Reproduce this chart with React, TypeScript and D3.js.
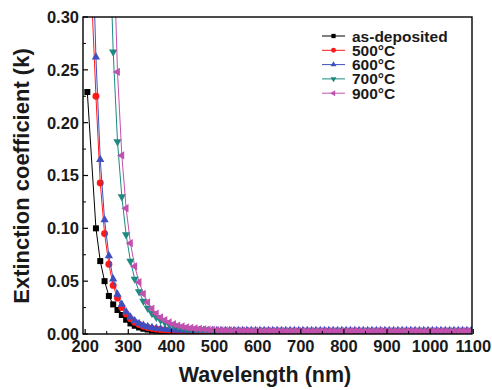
import React from 'react';
import * as d3 from 'd3';

const wavelengths = [
  205, 215, 225, 235, 245, 255, 265, 275, 285, 295,
  305, 315, 325, 335, 345, 355, 365, 375, 385, 395,
  405, 415, 425, 435, 445, 455, 465, 475, 485, 495,
  505, 515, 525, 535, 545, 555, 565, 575, 585, 595,
  605, 615, 625, 635, 645, 655, 665, 675, 685, 695,
  705, 715, 725, 735, 745, 755, 765, 775, 785, 795,
  805, 815, 825, 835, 845, 855, 865, 875, 885, 895,
  905, 915, 925, 935, 945, 955, 965, 975, 985, 995,
  1005, 1015, 1025, 1035, 1045, 1055, 1065, 1075, 1085, 1095,
];

const asDeposited = [
  0.229, null, 0.100, 0.069, 0.050, 0.036, 0.028, 0.0227, 0.018, 0.0135,
  0.010, 0.0078, 0.0062, 0.0050, 0.0042, 0.0036, 0.0031, 0.0028, 0.0025, 0.0023,
  0.0022, 0.0021, 0.0021, 0.0020, 0.0020, 0.0020, 0.0019, 0.0019, 0.0019, 0.0019,
  0.0018, 0.0018, 0.0018, 0.0018, 0.0018, 0.0018, 0.0018, 0.0018, 0.0018, 0.0018,
  0.0018, 0.0018, 0.0018, 0.0018, 0.0018, 0.0018, 0.0018, 0.0018, 0.0018, 0.0018,
  0.0018, 0.0018, 0.0018, 0.0018, 0.0018, 0.0018, 0.0018, 0.0018, 0.0018, 0.0018,
  0.0018, 0.0018, 0.0018, 0.0018, 0.0018, 0.0018, 0.0018, 0.0018, 0.0018, 0.0018,
  0.0018, 0.0018, 0.0018, 0.0018, 0.0018, 0.0018, 0.0018, 0.0018, 0.0018, 0.0018,
  0.0018, 0.0018, 0.0018, 0.0018, 0.0018, 0.0018, 0.0018, 0.0018, 0.0018, 0.0018,
];

const t500 = [
  null, 0.32, 0.225, 0.143, 0.095, 0.066, 0.046, 0.034, 0.025, 0.019,
  0.0145, 0.0112, 0.0090, 0.0074, 0.0062, 0.0053, 0.0046, 0.0041, 0.0037, 0.0034,
  0.0032, 0.0030, 0.0029, 0.0028, 0.0028, 0.0027, 0.0027, 0.0026, 0.0026, 0.0026,
  0.0026, 0.0026, 0.0025, 0.0025, 0.0025, 0.0025, 0.0025, 0.0025, 0.0025, 0.0025,
  0.0025, 0.0025, 0.0025, 0.0025, 0.0025, 0.0025, 0.0025, 0.0025, 0.0025, 0.0025,
  0.0025, 0.0025, 0.0025, 0.0025, 0.0025, 0.0025, 0.0025, 0.0025, 0.0025, 0.0025,
  0.0025, 0.0025, 0.0025, 0.0025, 0.0025, 0.0025, 0.0025, 0.0025, 0.0025, 0.0025,
  0.0025, 0.0025, 0.0025, 0.0025, 0.0025, 0.0025, 0.0025, 0.0025, 0.0025, 0.0025,
  0.0025, 0.0025, 0.0025, 0.0025, 0.0025, 0.0025, 0.0025, 0.0025, 0.0025, 0.0025,
];

const t600 = [
  null, 0.40, 0.262, 0.165, 0.108, 0.074, 0.052, 0.0375, 0.028, 0.021,
  0.016, 0.0125, 0.010, 0.0083, 0.0070, 0.0060, 0.0053, 0.0048, 0.0044, 0.0041,
  0.0039, 0.0037, 0.0036, 0.0035, 0.0035, 0.0034, 0.0034, 0.0034, 0.0033, 0.0033,
  0.0033, 0.0033, 0.0033, 0.0033, 0.0033, 0.0033, 0.0033, 0.0033, 0.0033, 0.0033,
  0.0033, 0.0033, 0.0033, 0.0033, 0.0033, 0.0033, 0.0033, 0.0033, 0.0033, 0.0033,
  0.0033, 0.0033, 0.0033, 0.0033, 0.0033, 0.0033, 0.0033, 0.0033, 0.0033, 0.0033,
  0.0033, 0.0033, 0.0033, 0.0033, 0.0033, 0.0033, 0.0033, 0.0033, 0.0033, 0.0033,
  0.0033, 0.0033, 0.0033, 0.0033, 0.0033, 0.0033, 0.0033, 0.0033, 0.0033, 0.0033,
  0.0033, 0.0033, 0.0033, 0.0033, 0.0033, 0.0033, 0.0033, 0.0033, 0.0033, 0.0033,
];

const t700 = [
  null, null, null, null, null, 0.40, 0.267, 0.182, 0.130, 0.094,
  0.069, 0.052, 0.040, 0.031, 0.0245, 0.0195, 0.0158, 0.013, 0.0108, 0.0091,
  0.0078, 0.0068, 0.0060, 0.0054, 0.0049, 0.0045, 0.0042, 0.0039, 0.0037, 0.0035,
  0.0034, 0.0033, 0.0032, 0.0031, 0.0031, 0.0030, 0.0030, 0.0030, 0.0029, 0.0029,
  0.0029, 0.0029, 0.0029, 0.0029, 0.0029, 0.0029, 0.0028, 0.0028, 0.0028, 0.0028,
  0.0028, 0.0028, 0.0028, 0.0028, 0.0028, 0.0028, 0.0028, 0.0028, 0.0028, 0.0028,
  0.0028, 0.0028, 0.0028, 0.0028, 0.0028, 0.0028, 0.0028, 0.0028, 0.0028, 0.0028,
  0.0028, 0.0028, 0.0028, 0.0028, 0.0028, 0.0028, 0.0028, 0.0028, 0.0028, 0.0028,
  0.0028, 0.0028, 0.0028, 0.0028, 0.0028, 0.0028, 0.0028, 0.0028, 0.0028, 0.0028,
];

const t900 = [
  null, null, null, null, null, null, 0.38, 0.248, 0.169, 0.119,
  0.086, 0.064, 0.049, 0.038, 0.030, 0.024, 0.0193, 0.0157, 0.013, 0.0109,
  0.0093, 0.0080, 0.0071, 0.0063, 0.0057, 0.0052, 0.0048, 0.0044, 0.0041, 0.0039,
  0.0037, 0.0035, 0.0034, 0.0033, 0.0032, 0.0031, 0.0031, 0.0030, 0.0030, 0.0030,
  0.0029, 0.0029, 0.0029, 0.0029, 0.0029, 0.0029, 0.0028, 0.0028, 0.0028, 0.0028,
  0.0028, 0.0028, 0.0028, 0.0028, 0.0028, 0.0028, 0.0028, 0.0028, 0.0028, 0.0028,
  0.0028, 0.0028, 0.0028, 0.0028, 0.0028, 0.0028, 0.0028, 0.0028, 0.0028, 0.0028,
  0.0028, 0.0028, 0.0028, 0.0028, 0.0028, 0.0028, 0.0028, 0.0028, 0.0028, 0.0028,
  0.0028, 0.0028, 0.0028, 0.0028, 0.0028, 0.0028, 0.0028, 0.0028, 0.0028, 0.0028,
];

const seriesNames = ['as-deposited', '500°C', '600°C', '700°C', '900°C'];
const seriesValues = [asDeposited, t500, t600, t700, t900];
const seriesColors = ['#000000', '#ff1a1a', '#3f4fc0', '#1c8a80', '#c250ae'];
const seriesShapes = ['square', 'circle', 'up', 'down', 'left'];

const xTicks = [200, 300, 400, 500, 600, 700, 800, 900, 1000, 1100];
const xMinorTicks = [250, 350, 450, 550, 650, 750, 850, 950, 1050];
const yTicks = [0, 0.05, 0.1, 0.15, 0.2, 0.25, 0.3];
const yMinorTicks = [0.025, 0.075, 0.125, 0.175, 0.225, 0.275];

const W = 492;
const H = 390;
const L = 83, R = 472, T = 17, B = 334;
const FONT = '"Liberation Sans", Arial, Helvetica, sans-serif';

function symbolPath(shape: string, size: number): { d: string; rot: number } {
  if (shape === 'square') return { d: d3.symbol(d3.symbolSquare, size)() as string, rot: 0 };
  if (shape === 'circle') return { d: d3.symbol(d3.symbolCircle, size)() as string, rot: 0 };
  const tri = d3.symbol(d3.symbolTriangle, size)() as string;
  if (shape === 'up') return { d: tri, rot: 0 };
  if (shape === 'down') return { d: tri, rot: 180 };
  return { d: tri, rot: -90 };
}

const markerSize: Record<string, number> = { square: 36, circle: 38, up: 30, down: 30, left: 30 };

export default function App() {
  const x = d3.scaleLinear().domain([195, 1097]).range([L, R]);
  const y = d3.scaleLinear().domain([0, 0.3]).range([B, T]);
  const line = d3.line<[number, number]>().x(d => x(d[0])).y(d => y(d[1]));

  return (
    <svg width={W} height={H} style={{ position: 'absolute', left: 0, top: 0, background: '#fff' }}
      fontFamily={FONT}>
      <defs>
        <clipPath id="plotClip">
          <rect x={L} y={T} width={R - L} height={B - T} />
        </clipPath>
      </defs>
      <rect x={0} y={0} width={W} height={H} fill="#fff" />
      <g clipPath="url(#plotClip)">
        {seriesValues.map((vals, si) => {
          const pts = wavelengths
            .map((w, i) => [w, vals[i]] as [number, number | null])
            .filter(p => p[1] !== null) as [number, number][];
          const sym = symbolPath(seriesShapes[si], markerSize[seriesShapes[si]]);
          return (
            <g key={si}>
              <path d={line(pts) as string} fill="none" stroke={seriesColors[si]} strokeWidth={1} />
              {pts.map((p, i) => (
                <path key={i} d={sym.d} fill={seriesColors[si]}
                  transform={`translate(${x(p[0])},${y(p[1])}) rotate(${sym.rot})`} />
              ))}
            </g>
          );
        })}
      </g>
      {yTicks.map(t => (
        <line key={'yt' + t} x1={L} x2={L + 5} y1={y(t)} y2={y(t)} stroke="#000" strokeWidth={1.2} />
      ))}
      {yMinorTicks.map(t => (
        <line key={'ym' + t} x1={L} x2={L + 3} y1={y(t)} y2={y(t)} stroke="#000" strokeWidth={1} />
      ))}
      {xTicks.map(t => (
        <line key={'xt' + t} x1={x(t)} x2={x(t)} y1={B} y2={B - 5} stroke="#000" strokeWidth={1.2} />
      ))}
      {xMinorTicks.map(t => (
        <line key={'xm' + t} x1={x(t)} x2={x(t)} y1={B} y2={B - 3} stroke="#000" strokeWidth={1} />
      ))}
      <rect x={L} y={T} width={R - L} height={B - T} fill="none" stroke="#000" strokeWidth={1.4} />
      {yTicks.map(t => (
        <text key={'yl' + t} x={L - 4} y={y(t)} dy="0.36em" textAnchor="end" fontSize={16.5}
          fontWeight="bold" fill="#1a1a1a">{d3.format('.2f')(t)}</text>
      ))}
      {xTicks.map(t => (
        <text key={'xl' + t} x={x(t)} y={352} textAnchor="middle" fontSize={16.5}
          fontWeight="bold" fill="#1a1a1a">{t}</text>
      ))}
      <text x={265} y={382} textAnchor="middle" fontSize={21.5} fontWeight="bold" fill="#1a1a1a">
        Wavelength (nm)
      </text>
      <text transform="translate(29,176) rotate(-90)" textAnchor="middle" fontSize={22}
        fontWeight="bold" fill="#1a1a1a">Extinction coefficient (k)</text>
      {seriesNames.map((name, si) => {
        const cy = 36 + si * 14.3;
        const sym = symbolPath(seriesShapes[si], markerSize[seriesShapes[si]] * 0.5);
        return (
          <g key={'lg' + si}>
            <line x1={322} x2={345} y1={cy} y2={cy} stroke={seriesColors[si]} strokeWidth={1} />
            <path d={sym.d} fill={seriesColors[si]} transform={`translate(333.5,${cy}) rotate(${sym.rot})`} />
            <text x={352} y={cy} dy="0.36em" fontSize={15.5} fontWeight="bold" fill="#1a1a1a">{name}</text>
          </g>
        );
      })}
    </svg>
  );
}
